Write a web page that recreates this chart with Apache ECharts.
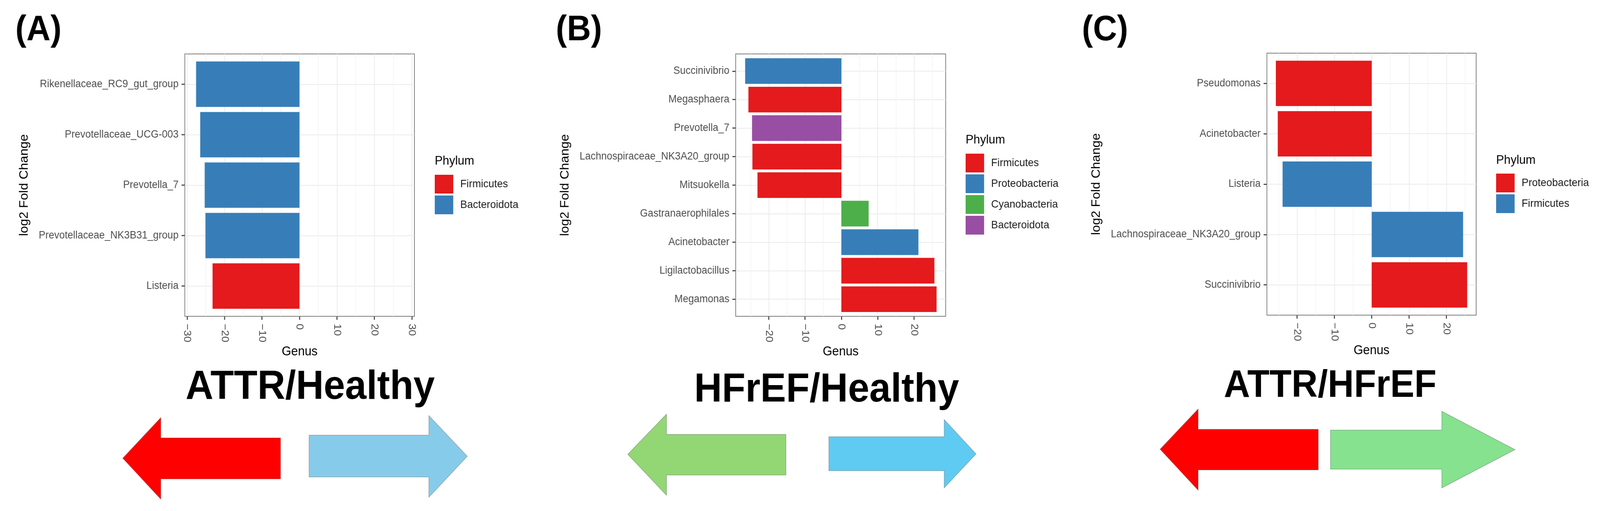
<!DOCTYPE html>
<html>
<head>
<meta charset="utf-8">
<title>Differential genera</title>
<script src="https://cdn.jsdelivr.net/npm/echarts@6.0.0/dist/echarts.min.js"></script>
<style>
  html, body { margin: 0; padding: 0; background: #fff; overflow: hidden; }
  #chart { width: 4328px; height: 1307px; transform-origin: 0 0; }
</style>
</head>
<body>
<div id="chart"></div>
<script>
// panel A : ATTR vs Healthy
var phylaA = ['Firmicutes', 'Bacteroidota'];
var genusA = ['Rikenellaceae_RC9_gut_group', 'Prevotellaceae_UCG-003', 'Prevotella_7', 'Prevotellaceae_NK3B31_group', 'Listeria'];
var lfcA = [-27.6, -26.5, -25.3, -25.1, -23.2];
var phylumA = ['Bacteroidota', 'Bacteroidota', 'Bacteroidota', 'Bacteroidota', 'Firmicutes'];
var ticksA = [-30, -20, -10, 0, 10, 20, 30];

// panel B : HFrEF vs Healthy
var phylaB = ['Firmicutes', 'Proteobacteria', 'Cyanobacteria', 'Bacteroidota'];
var genusB = ['Succinivibrio', 'Megasphaera', 'Prevotella_7', 'Lachnospiraceae_NK3A20_group', 'Mitsuokella',
    'Gastranaerophilales', 'Acinetobacter', 'Ligilactobacillus', 'Megamonas'];
var lfcB = [-26.5, -25.6, -24.6, -24.5, -23.1, 7.5, 21.2, 25.6, 26.2];
var phylumB = ['Proteobacteria', 'Firmicutes', 'Bacteroidota', 'Firmicutes', 'Firmicutes',
    'Cyanobacteria', 'Proteobacteria', 'Firmicutes', 'Firmicutes'];
var ticksB = [-20, -10, 0, 10, 20];

// panel C : ATTR vs HFrEF
var phylaC = ['Proteobacteria', 'Firmicutes'];
var genusC = ['Pseudomonas', 'Acinetobacter', 'Listeria', 'Lachnospiraceae_NK3A20_group', 'Succinivibrio'];
var lfcC = [-25.7, -25.2, -23.9, 24.5, 25.6];
var phylumC = ['Proteobacteria', 'Proteobacteria', 'Firmicutes', 'Firmicutes', 'Proteobacteria'];
var ticksC = [-20, -10, 0, 10, 20];

var set1 = ['#E41A1C', '#377EB8', '#4DAF4A', '#984EA3'];
var FONT = '"Liberation Sans", Arial, sans-serif';

// the window may be narrower than the 4328px figure: squeeze it horizontally to fit
var chartEl = document.getElementById('chart');
var sx = Math.min(1, window.innerWidth / 4328);
chartEl.style.transform = 'scale(' + sx + ', 1)';

var chart = echarts.init(chartEl);

// panels share the same look, only the box and the extent differ
var panels = [
    { key: 'A', genus: genusA, lfc: lfcA, phylum: phylumA, phyla: phylaA, ticks: ticksA,
      min: -30.6, max: 30.7, grid: { left: 500, top: 138, width: 621, height: 671 }, nameGap: 418,
      legend: { left: 1176, top: 447 } },
    { key: 'B', genus: genusB, lfc: lfcB, phylum: phylumB, phyla: phylaB, ticks: ticksB,
      min: -29.1, max: 28.7, grid: { left: 1990, top: 138, width: 568, height: 671 }, nameGap: 445,
      legend: { left: 2612, top: 393 } },
    { key: 'C', genus: genusC, lfc: lfcC, phylum: phylumC, phyla: phylaC, ticks: ticksC,
      min: -28.1, max: 28.0, grid: { left: 3427, top: 136, width: 566, height: 670 }, nameGap: 445,
      legend: { left: 4047, top: 444 } }
];

function renderBar(params, api) {
    var idx = api.value(1);
    var start = api.coord([0, idx]);
    var end = api.coord([api.value(0), idx]);
    var h = api.size([0, 0.9])[1];
    return {
        type: 'rect',
        shape: {
            x: Math.min(start[0], end[0]),
            y: start[1] - h / 2,
            width: Math.abs(end[0] - start[0]),
            height: h
        },
        style: { fill: api.visual('color') }
    };
}

var grids = [], xAxes = [], yAxes = [], series = [], legends = [];

panels.forEach(function (p, pi) {
    grids.push({
        left: p.grid.left, top: p.grid.top, width: p.grid.width, height: p.grid.height,
        show: true, borderColor: '#7f7f7f', borderWidth: 2, backgroundColor: 'transparent'
    });
    xAxes.push({
        type: 'value', gridIndex: pi, min: p.min, max: p.max, position: 'bottom',
        name: 'Genus', nameLocation: 'middle', nameGap: 62,
        nameTextStyle: { fontSize: 33, color: '#000', fontFamily: FONT },
        axisLine: { show: false, onZero: false },
        axisTick: { show: true, length: 9, customValues: p.ticks, lineStyle: { color: '#333', width: 2.5 } },
        axisLabel: {
            customValues: p.ticks, rotate: -90, margin: 19,
            fontSize: 28, color: '#4d4d4d', fontFamily: FONT,
            formatter: function (v) { return String(v).replace('-', '\u2212'); }
        },
        splitLine: { show: true, lineStyle: { color: '#ebebeb', width: 2 } },
        minorTick: { show: false, splitNumber: 2 },
        minorSplitLine: { show: true, lineStyle: { color: '#f3f3f3', width: 1.5 } }
    });
    var idxs = p.genus.map(function (g, i) { return i; });
    yAxes.push({
        type: 'value', gridIndex: pi, inverse: true, position: 'left',
        min: -0.6, max: p.genus.length - 0.4,
        name: 'log2 Fold Change', nameLocation: 'middle', nameGap: p.nameGap,
        nameTextStyle: { fontSize: 33, color: '#000', fontFamily: FONT },
        axisLine: { show: false, onZero: false },
        axisTick: { show: true, length: 9, customValues: idxs, lineStyle: { color: '#333', width: 2.5 } },
        axisLabel: {
            customValues: idxs, margin: 17,
            fontSize: 27, color: '#4d4d4d', fontFamily: FONT,
            formatter: (function (names) {
                return function (v) { return names[Math.round(v)]; };
            })(p.genus)
        },
        splitLine: { show: true, lineStyle: { color: '#ebebeb', width: 2 } }
    });
    var names = [];
    p.phyla.forEach(function (ph, k) {
        var data = [];
        p.genus.forEach(function (g, i) {
            if (p.phylum[i] === ph) data.push([p.lfc[i], i, g]);
        });
        var sname = p.key + ':' + ph;
        names.push(sname);
        series.push({
            type: 'custom', name: sname,
            xAxisIndex: pi, yAxisIndex: pi,
            itemStyle: { color: set1[k] },
            encode: { x: 0, y: 1 },
            renderItem: renderBar,
            data: data
        });
    });
    legends.push({
        data: names, orient: 'vertical', left: p.legend.left, top: p.legend.top,
        padding: 0, itemWidth: 50, itemHeight: 48, itemGap: 5, icon: 'rect',
        selectedMode: false,
        formatter: function (n) { return n.split(':')[1]; },
        textStyle: { fontSize: 28, color: '#1a1a1a', fontFamily: FONT, padding: [0, 0, 0, 14] }
    });
});

function label(text, x, y, size, weight, align) {
    return {
        type: 'text', x: x, y: y, silent: true,
        style: {
            text: text, fill: '#000',
            font: (weight || 'normal') + ' ' + size + 'px ' + FONT,
            align: align || 'center', verticalAlign: 'middle',
            textAlign: align || 'center', textVerticalAlign: 'middle'
        }
    };
}

function arrow(points, fill) {
    return {
        type: 'polygon', silent: true,
        shape: { points: points },
        style: { fill: fill, stroke: 'rgba(90,90,90,0.45)', lineWidth: 1.5 }
    };
}

var graphics = [
    label('(A)', 104, 78, 90, 'bold'),
    label('(B)', 1566, 78, 90, 'bold'),
    label('(C)', 2989, 78, 90, 'bold'),
    label('Phylum', 1176, 412, 32, 'normal', 'left'),
    label('Phylum', 2612, 358, 32, 'normal', 'left'),
    label('Phylum', 4047, 410, 32, 'normal', 'left'),
    label('ATTR/Healthy', 839, 991, 104, 'bold'),
    label('HFrEF/Healthy', 2236, 998, 104, 'bold'),
    label('ATTR/HFrEF', 3598, 988, 98, 'bold'),
    arrow([[332, 1172], [435, 1068], [435, 1120], [759, 1120], [759, 1225], [435, 1225], [435, 1277]], '#FF0000'),
    arrow([[836, 1113], [1160, 1113], [1160, 1063], [1264, 1167], [1160, 1272], [1160, 1220], [836, 1220]], '#87CBEA'),
    arrow([[1698, 1162], [1803, 1059], [1803, 1111], [2126, 1111], [2126, 1215], [1803, 1215], [1803, 1267]], '#92D774'),
    arrow([[2242, 1117], [2554, 1117], [2554, 1073], [2640, 1161], [2554, 1248], [2554, 1204], [2242, 1204]], '#5FCBF3'),
    arrow([[3138, 1149], [3241, 1046], [3241, 1098], [3566, 1098], [3566, 1202], [3241, 1202], [3241, 1254]], '#FF0000'),
    arrow([[3599, 1100], [3900, 1100], [3900, 1052], [4098, 1150], [3900, 1248], [3900, 1200], [3599, 1200]], '#86E28E')
];

chart.setOption({
    backgroundColor: '#fff',
    animation: false,
    grid: grids,
    xAxis: xAxes,
    yAxis: yAxes,
    legend: legends,
    series: series,
    graphic: graphics
});
</script>
</body>
</html>
